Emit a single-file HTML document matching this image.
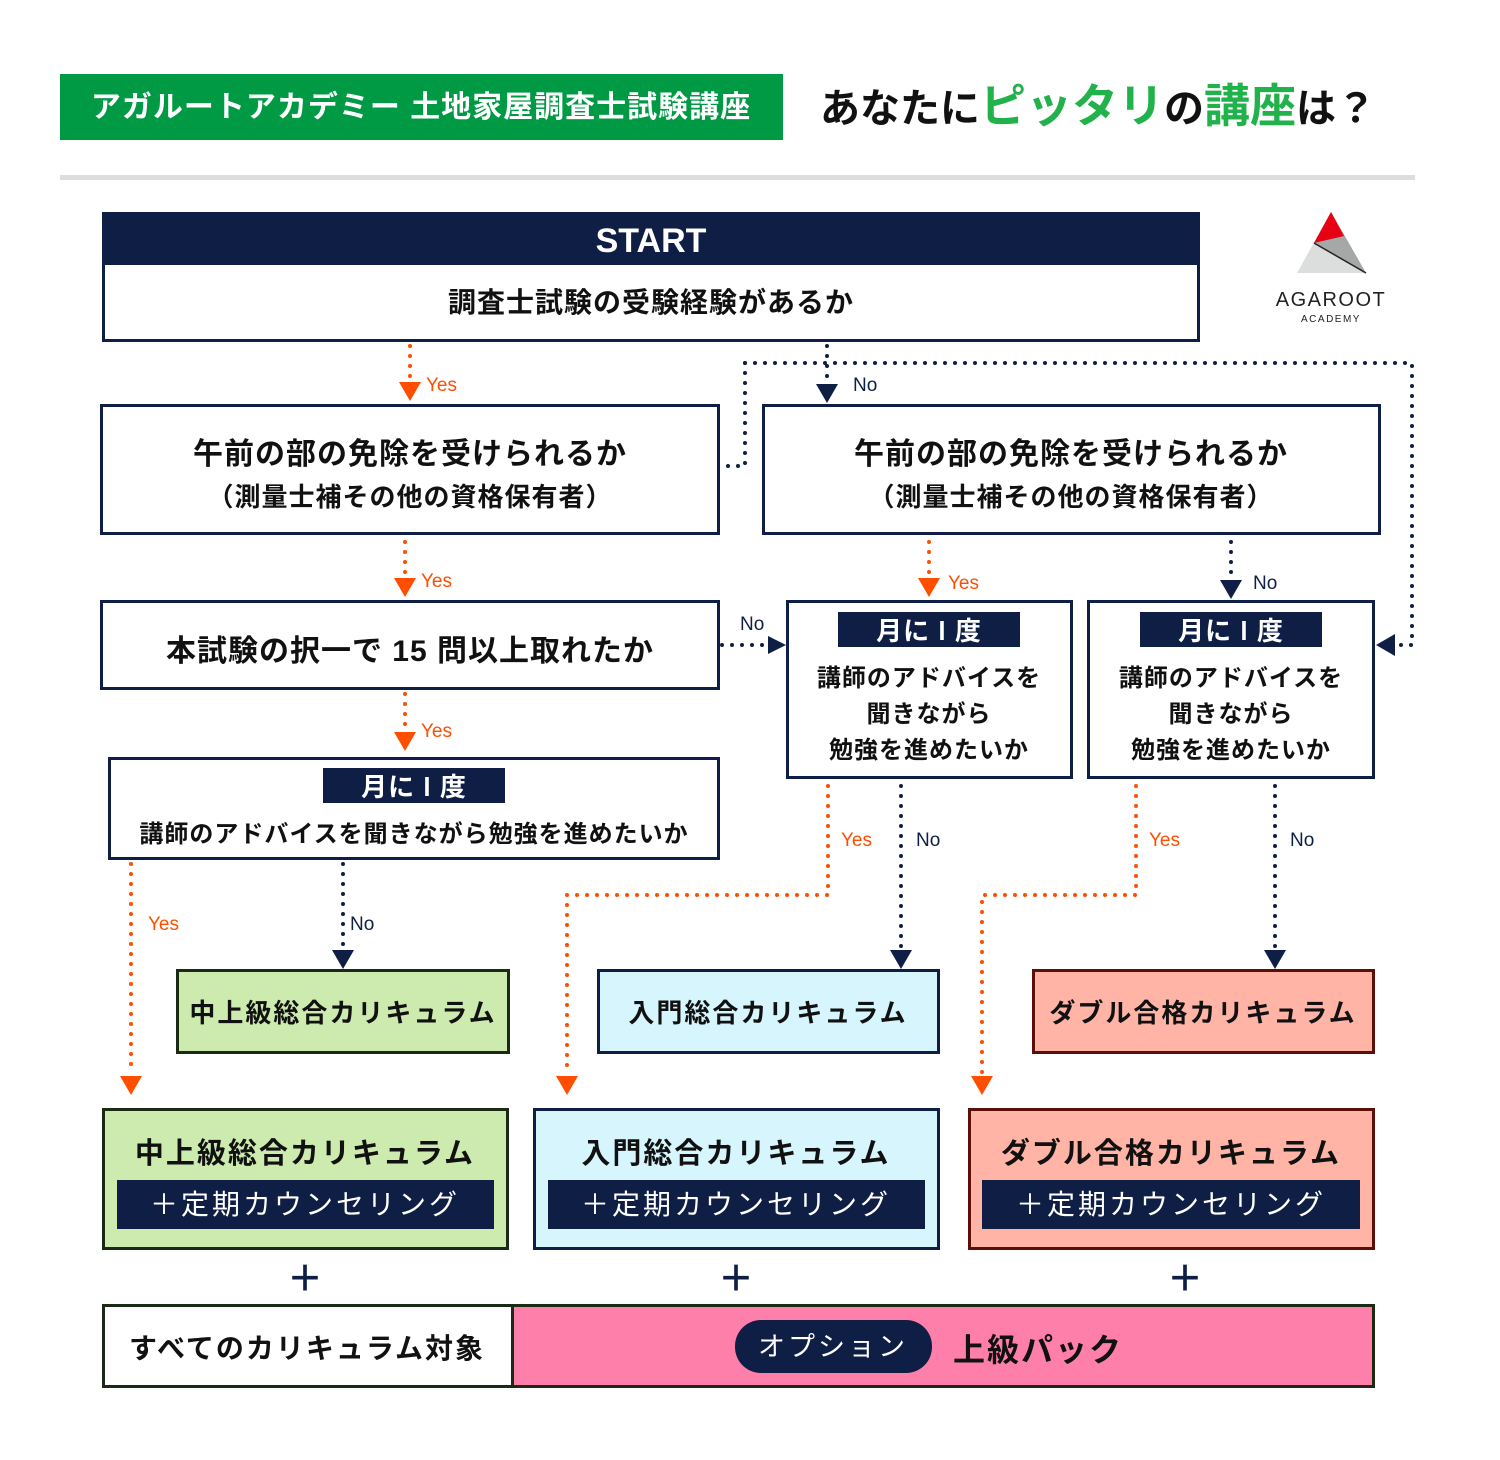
<!DOCTYPE html>
<html><head><meta charset="utf-8"><style>
html,body{margin:0;padding:0;background:#fff}
svg text{font-family:"Liberation Sans","Noto Sans CJK JP",sans-serif}
</style></head><body>
<svg width="1500" height="1455" viewBox="0 0 1500 1455" xmlns="http://www.w3.org/2000/svg">
<!-- header -->
<rect x="60" y="74" width="723" height="66" fill="#009a44"/>
<text x="421" y="117" font-size="30" font-weight="bold" fill="#fff" text-anchor="middle" letter-spacing="1">アガルートアカデミー 土地家屋調査士試験講座</text>
<text x="820" y="122" font-size="40" font-weight="bold" fill="#111">あなたに<tspan fill="#22b24c" font-size="46">ピッタリ</tspan>の<tspan fill="#22b24c" font-size="46">講座</tspan>は？</text>
<rect x="60" y="175" width="1355" height="5" fill="#ddd"/>
<!-- logo -->
<polygon points="1331,212 1297,273 1366,273" fill="#dcdedd"/>
<polygon points="1314,243 1331,212 1366,273" fill="#a6a7a7"/>
<polygon points="1331,212 1344,236 1314,243" fill="#e60012"/>
<line x1="1314" y1="243" x2="1366" y2="273" stroke="#222" stroke-width="1.5"/>
<text x="1331" y="306" font-size="20" fill="#222" text-anchor="middle" letter-spacing="1.5">AGAROOT</text>
<text x="1331" y="322" font-size="10" fill="#222" text-anchor="middle" letter-spacing="1.5">ACADEMY</text>
<!-- start -->
<rect x="102" y="212" width="1098" height="50" fill="#0f1e45"/>
<text x="651" y="252" font-size="34" font-weight="bold" fill="#fff" text-anchor="middle">START</text>
<rect x="103.5" y="263.5" width="1095" height="77" fill="#fff" stroke="#0f1e45" stroke-width="3"/>
<text x="651" y="312" font-size="28" font-weight="bold" fill="#111" text-anchor="middle" letter-spacing="1">調査士試験の受験経験があるか</text>

<g fill="none" stroke-width="4" stroke-linecap="round" stroke-dasharray="0 10">
<g stroke="#ff4e00">
<path d="M410 346 V382"/>
<path d="M405 542 V578"/>
<path d="M405 694 V730"/>
<path d="M929 542 V578"/>
<path d="M131 864 V1074"/>
<path d="M828 786 V895 H567 V1074"/>
<path d="M1136 786 V895 H982 V1074"/>
</g>
<g stroke="#0f1e45">
<path d="M827 346 V382"/>
<path d="M745 363 H1412 V645 H1395"/>
<path d="M745 363 V466 H722"/>
<path d="M1231 542 V578"/>
<path d="M722 645 H768"/>
<path d="M343 864 V948"/>
<path d="M901 786 V948"/>
<path d="M1275 786 V948"/>
</g>
</g>
<g fill="#ff4e00">
<polygon points="399,382 421,382 410,401"/>
<polygon points="394,578 416,578 405,597"/>
<polygon points="394,732 416,732 405,751"/>
<polygon points="918,578 940,578 929,597"/>
<polygon points="120,1076 142,1076 131,1095"/>
<polygon points="556,1076 578,1076 567,1095"/>
<polygon points="971,1076 993,1076 982,1095"/>
</g>
<g fill="#0f1e45">
<polygon points="816,384 838,384 827,403"/>
<polygon points="1220,580 1242,580 1231,599"/>
<polygon points="768,636 768,654 786,645"/>
<polygon points="1395,634 1395,656 1376,645"/>
<polygon points="332,950 354,950 343,969"/>
<polygon points="890,950 912,950 901,969"/>
<polygon points="1264,950 1286,950 1275,969"/>
</g>
<g font-size="19" fill="#ff4e00">
<text x="426" y="391">Yes</text><text x="421" y="587">Yes</text><text x="421" y="737">Yes</text>
<text x="948" y="589">Yes</text><text x="148" y="930">Yes</text><text x="841" y="846">Yes</text><text x="1149" y="846">Yes</text>
</g>
<g font-size="19" fill="#0f1e45">
<text x="853" y="391">No</text><text x="1253" y="589">No</text><text x="740" y="630">No</text>
<text x="350" y="930">No</text><text x="916" y="846">No</text><text x="1290" y="846">No</text>
</g>

<g fill="#fff" stroke="#0f1e45" stroke-width="3">
<rect x="101.5" y="405.5" width="617" height="128"/>
<rect x="763.5" y="405.5" width="616" height="128"/>
<rect x="101.5" y="601.5" width="617" height="87"/>
<rect x="787.5" y="601.5" width="284" height="176"/>
<rect x="1088.5" y="601.5" width="285" height="176"/>
<rect x="109.5" y="758.5" width="609" height="100"/>
</g>
<g font-weight="bold" fill="#111" text-anchor="middle" letter-spacing="1">
<text x="410" y="464" font-size="30">午前の部の免除を受けられるか</text>
<text x="410" y="506" font-size="26">（測量士補その他の資格保有者）</text>
<text x="1071" y="464" font-size="30">午前の部の免除を受けられるか</text>
<text x="1071" y="506" font-size="26">（測量士補その他の資格保有者）</text>
<text x="410" y="661" font-size="30">本試験の択一で 15 問以上取れたか</text>
<text x="929" y="686" font-size="24">講師のアドバイスを</text>
<text x="929" y="722" font-size="24">聞きながら</text>
<text x="929" y="758" font-size="24">勉強を進めたいか</text>
<text x="1231" y="686" font-size="24">講師のアドバイスを</text>
<text x="1231" y="722" font-size="24">聞きながら</text>
<text x="1231" y="758" font-size="24">勉強を進めたいか</text>
<text x="414" y="842" font-size="24">講師のアドバイスを聞きながら勉強を進めたいか</text>
</g>
<g fill="#0f1e45">
<rect x="838" y="612" width="182" height="35"/>
<rect x="1140" y="612" width="182" height="35"/>
<rect x="323" y="768" width="182" height="35"/>
</g>
<g font-size="26" font-weight="bold" fill="#fff" text-anchor="middle" letter-spacing="1">
<text x="929" y="640">月に l 度</text>
<text x="1231" y="640">月に l 度</text>
<text x="414" y="796">月に l 度</text>
</g>

<rect x="177.5" y="970.5" width="331" height="82" fill="#cdeaaf" stroke="#1a2a14" stroke-width="3"/>
<rect x="598.5" y="970.5" width="340" height="82" fill="#d6f5fd" stroke="#0f1e45" stroke-width="3"/>
<rect x="1033.5" y="970.5" width="340" height="82" fill="#ffb4a6" stroke="#5a1008" stroke-width="3"/>
<g font-size="26" font-weight="bold" fill="#111" text-anchor="middle" letter-spacing="2">
<text x="343" y="1022">中上級総合カリキュラム</text>
<text x="768" y="1022">入門総合カリキュラム</text>
<text x="1203" y="1022">ダブル合格カリキュラム</text>
</g>
<rect x="103.5" y="1109.5" width="404" height="139" fill="#cdeaaf" stroke="#1a2a14" stroke-width="3"/>
<rect x="534.5" y="1109.5" width="404" height="139" fill="#d6f5fd" stroke="#0f1e45" stroke-width="3"/>
<rect x="969.5" y="1109.5" width="404" height="139" fill="#ffb4a6" stroke="#5a1008" stroke-width="3"/>
<g font-size="29" font-weight="bold" fill="#111" text-anchor="middle" letter-spacing="2">
<text x="305" y="1163">中上級総合カリキュラム</text>
<text x="736" y="1163">入門総合カリキュラム</text>
<text x="1171" y="1163">ダブル合格カリキュラム</text>
</g>
<g fill="#0f1e45">
<rect x="117" y="1180" width="377" height="49"/>
<rect x="548" y="1180" width="377" height="49"/>
<rect x="982" y="1180" width="378" height="49"/>
</g>
<g font-size="28" fill="#fff" text-anchor="middle" letter-spacing="3">
<text x="305" y="1214">＋定期カウンセリング</text>
<text x="736" y="1214">＋定期カウンセリング</text>
<text x="1171" y="1214">＋定期カウンセリング</text>
</g>
<g font-size="36" font-weight="bold" fill="#0f1e45" text-anchor="middle">
<text x="305" y="1291">＋</text><text x="736" y="1291">＋</text><text x="1185" y="1291">＋</text>
</g>
<rect x="103.5" y="1305.5" width="409" height="81" fill="#fff" stroke="#1a2a14" stroke-width="3"/>
<rect x="512.5" y="1305.5" width="861" height="81" fill="#ff7fab" stroke="#1a2a14" stroke-width="3"/>
<text x="307" y="1358" font-size="28" font-weight="bold" fill="#111" text-anchor="middle" letter-spacing="2">すべてのカリキュラム対象</text>
<rect x="735" y="1320" width="197" height="53" rx="26" fill="#0f1e45"/>
<text x="833" y="1356" font-size="27" fill="#fff" text-anchor="middle" letter-spacing="3">オプション</text>
<text x="953" y="1361" font-size="32" font-weight="bold" fill="#111" letter-spacing="2">上級パック</text>
</svg>
</body></html>
